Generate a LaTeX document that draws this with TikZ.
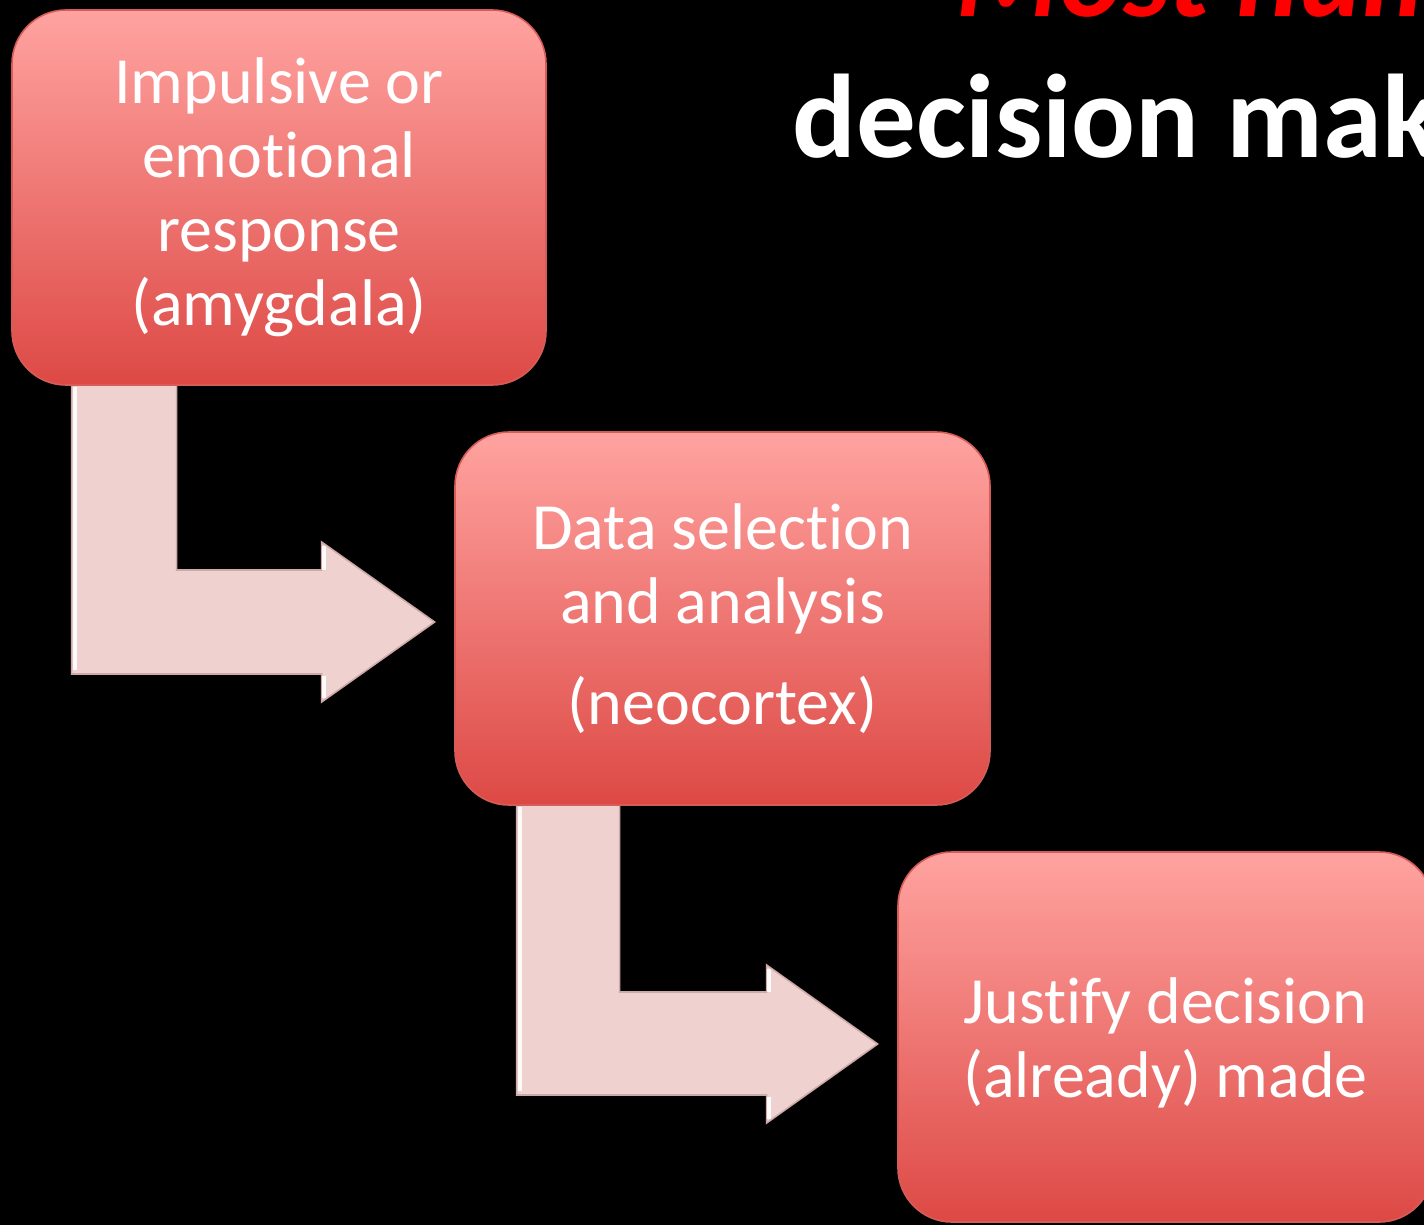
\documentclass[tikz,border=0pt]{standalone}
\usepackage{fontspec}
\setmainfont{Carlito}[Ligatures={NoCommon,NoContextual}]
\usetikzlibrary{calc}
\newcommand{\nolig}{\kern0pt }
\definecolor{boxtop}{RGB}{255,163,160}
\definecolor{boxmid}{RGB}{246,132,128}
\definecolor{boxbot}{RGB}{221,73,69}
\definecolor{boxedge}{RGB}{214,92,88}
\definecolor{arrowfill}{RGB}{239,209,207}
\definecolor{arrowedge}{RGB}{205,170,168}
\definecolor{titlered}{RGB}{255,0,0}
\tikzset{
  stepbox/.style={rectangle, rounded corners=27pt, top color=boxtop, middle color=boxmid,
    bottom color=boxbot, draw=boxedge, line width=0.8pt, text=white, align=center,
    inner sep=0pt, font={\fontsize{33pt}{37pt}\selectfont}},
  bentarrow/.style={fill=arrowfill, draw=arrowedge, line width=0.8pt, line join=miter},
  hilite/.style={draw=white, line width=2pt, opacity=0.9},
  titlewhite/.style={text=white, anchor=base west, inner sep=0pt, font={\fontsize{59.5pt}{70pt}\selectfont\bfseries}},
  titlered/.style={text=titlered, anchor=base west, inner sep=0pt, font={\fontsize{59.5pt}{70pt}\selectfont\bfseries\itshape}}
}
\begin{document}
\begin{tikzpicture}[x=0.5pt, y=-0.5pt]
\useasboundingbox (0,0) rectangle (1424,1225);
\fill[black] (0,0) rectangle (1424,1225);
\clip (0,0) rectangle (1424,1225);

% title (cropped at the right edge, as in the reference)
\node[titlered] (t1) at (956,17) {Most human};
\node[titlewhite] (t2) at (792,158) {decision making};

% box positions
\path (279,197.5) coordinate (c1) (722.5,618.5) coordinate (c2) (1165.5,1037) coordinate (c3);

% placeholder nodes to obtain anchors (boxes drawn later on top of arrows)
\path node[minimum width=267pt, minimum height=187.5pt, inner sep=0pt] (p1) at (c1) {}
      node[minimum width=267.5pt, minimum height=186.5pt, inner sep=0pt] (p2) at (c2) {}
      node[minimum width=267.5pt, minimum height=185pt, inner sep=0pt] (p3) at (c3) {};

% arrow 1
\coordinate (s1) at ($(p1.south west)+(60,-10)$);
\coordinate (e1) at ($(p2.west)+(-20,3.5)$);
\draw[bentarrow] (s1) -- ++(105,0) |- ($(e1)+(-113,-52)$) -- ($(e1)+(-113,-80)$) -- (e1)
   -- ($(e1)+(-113,80)$) -- ($(e1)+(-113,52)$) -| (s1) -- cycle;
\draw[hilite] ($(s1)+(3,12)$) -- ($(s1|-e1)+(3,48)$);
\draw[hilite] ($(e1)+(-111,-76)$) -- ($(e1)+(-111,-52)$);
\draw[hilite] ($(e1)+(-111,76)$) -- ($(e1)+(-111,54)$);

% arrow 2
\coordinate (s2) at ($(p2.south west)+(62,-10)$);
\coordinate (e2) at ($(p3.west)+(-20,7)$);
\draw[bentarrow] (s2) -- ++(103,0) |- ($(e2)+(-111,-52)$) -- ($(e2)+(-111,-79)$) -- (e2)
   -- ($(e2)+(-111,79)$) -- ($(e2)+(-111,51)$) -| (s2) -- cycle;
\draw[hilite] ($(s2)+(3,12)$) -- ($(s2|-e2)+(3,47)$);
\draw[hilite] ($(e2)+(-109,-75)$) -- ($(e2)+(-109,-52)$);
\draw[hilite] ($(e2)+(-109,75)$) -- ($(e2)+(-109,53)$);

% boxes
\node[stepbox, minimum width=267pt, minimum height=187.5pt] (b1) at (c1)
  {Impulsive or\\emot\nolig ional\\response\\(amygdala)};
\node[stepbox, minimum width=267.5pt, minimum height=186.5pt] (b2) at (c2)
  {Data selec\nolig t\nolig ion\\and analysis\\[13.5pt](neocortex)};
\node[stepbox, minimum width=267.5pt, minimum height=185pt] (b3) at (c3)
  {\rule{0pt}{29pt}Justif\nolig y decision\\(already) made};
\end{tikzpicture}
\end{document}
